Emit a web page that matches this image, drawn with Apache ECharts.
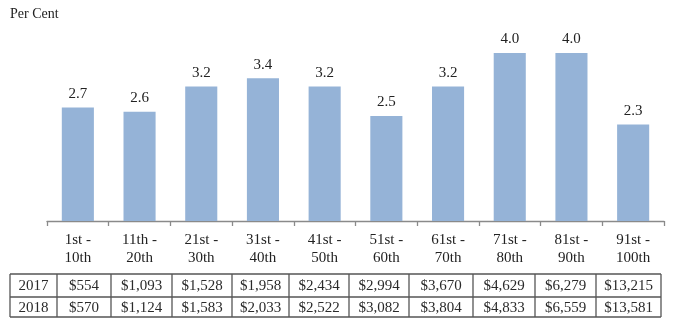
<!DOCTYPE html>
<html>
<head>
<meta charset="utf-8">
<script src="https://cdn.jsdelivr.net/npm/echarts@6/dist/echarts.min.js"></script>
<style>
html,body{margin:0;padding:0;background:#fff;}
#c{width:692px;height:326px;}
</style>
</head>
<body>
<div id="c"></div>
<script>
const categories = ["1st -\n10th","11th -\n20th","21st -\n30th","31st -\n40th","41st -\n50th","51st -\n60th","61st -\n70th","71st -\n80th","81st -\n90th","91st -\n100th"];
const growth = [2.7, 2.6, 3.2, 3.4, 3.2, 2.5, 3.2, 4.0, 4.0, 2.3];
const years = ["2017", "2018"];
const income2017 = ["$554","$1,093","$1,528","$1,958","$2,434","$2,994","$3,670","$4,629","$6,279","$13,215"];
const income2018 = ["$570","$1,124","$1,583","$2,033","$2,522","$3,082","$3,804","$4,833","$6,559","$13,581"];
const yAxisTitle = "Per Cent";

const FONT = '"Liberation Serif", "Times New Roman", serif';
const colEdges = [10, 57, 111, 172, 232, 289, 349, 409, 473, 535, 596, 661];
const rowEdges = [274, 297, 317];
const rows = [[years[0]].concat(income2017), [years[1]].concat(income2018)];

const graphics = [];
const lineStyle = {stroke: '#555', lineWidth: 1.3};
rowEdges.forEach(y => graphics.push({type:'line', shape:{x1:colEdges[0], y1:y, x2:colEdges[colEdges.length-1], y2:y}, style:lineStyle, silent:true}));
colEdges.forEach(x => graphics.push({type:'line', shape:{x1:x, y1:rowEdges[0], x2:x, y2:rowEdges[rowEdges.length-1]}, style:lineStyle, silent:true}));
rows.forEach((r, ri) => {
  r.forEach((t, ci) => {
    graphics.push({
      type:'text',
      x:(colEdges[ci]+colEdges[ci+1])/2,
      y:(rowEdges[ri]+rowEdges[ri+1])/2 + 1,
      style:{text:t, font:'15px ' + FONT, fill:'#2a2a2a', align:'center', verticalAlign:'middle'},
      silent:true
    });
  });
});
graphics.push({type:'text', x:10, y:14, style:{text:yAxisTitle, font:'14px ' + FONT, fill:'#222', align:'left', verticalAlign:'middle'}, silent:true});

const chart = echarts.init(document.getElementById('c'), null, {renderer:'canvas'});
chart.setOption({
  animation:false,
  backgroundColor:'#fff',
  grid:{left:47, right:28, top:11, bottom:105, containLabel:false},
  xAxis:{
    type:'category',
    data:categories,
    boundaryGap:true,
    axisLine:{lineStyle:{color:'#8a8a8a', width:1.3}},
    axisTick:{show:true, length:5, lineStyle:{color:'#8a8a8a', width:1.3}},
    axisLabel:{fontFamily:FONT, fontSize:15, color:'#222', margin:10, lineHeight:18, interval:0}
  },
  yAxis:{type:'value', min:0, max:5, show:false, splitLine:{show:false}},
  series:[{
    type:'bar',
    data:growth,
    barWidth:'52%',
    itemStyle:{color:'#95b3d7'},
    label:{show:true, position:'top', distance:6, fontFamily:FONT, fontSize:15, color:'#222',
      formatter:p => p.value.toFixed(1)}
  }],
  graphic:graphics
});
</script>
</body>
</html>
